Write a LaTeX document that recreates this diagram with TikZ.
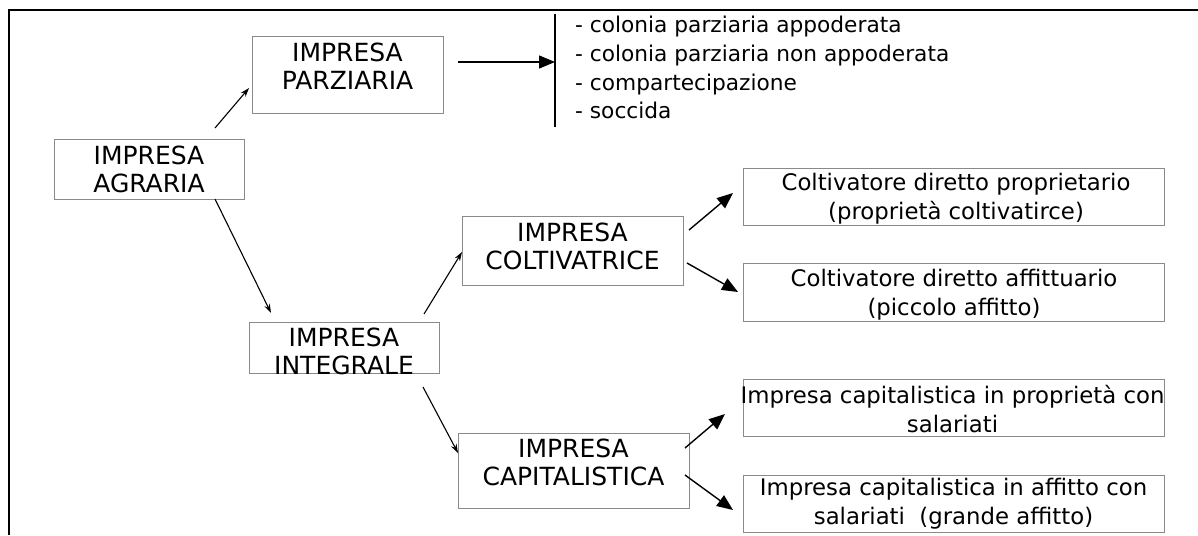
\documentclass[tikz,border=0pt]{standalone}
\usepackage{fontspec}
\setmainfont{DejaVu Sans}
\usetikzlibrary{arrows.meta,calc}
\definecolor{boxgray}{HTML}{8A8A8A}
\begin{document}
\begin{tikzpicture}[x=1pt,y=-1pt,
  box/.style={draw=boxgray, line width=0.9pt, inner sep=0pt, rectangle},
  txt/.style={align=center, font=\fontsize{22.8}{29}\selectfont, inner sep=0pt},
  captxt/.style={align=center, font=\fontsize{25}{28}\selectfont, inner sep=0pt},
  lst/.style={anchor=base west, font=\fontsize{21.7}{28}\selectfont, inner sep=0pt},
  smallarr/.style={line width=1.1pt, -{Stealth[length=9pt,width=6pt]}},
  bigarr/.style={line width=1.4pt, -{Triangle[length=16pt,width=13pt]}},
]
\useasboundingbox (0,0) rectangle (1198,535);
% outer frame
\draw[line width=2pt] (1198,10.5) -- (9,10.5) -- (9,535);

% boxes
\node[box, minimum width=191pt, minimum height=77pt] (parz) at (347.5,74.5) {};
\node[box, minimum width=190pt, minimum height=60pt] (agr) at (149,169) {};
\node[box, minimum width=190pt, minimum height=51pt] (integ) at (344,347.5) {};
\node[box, minimum width=221pt, minimum height=69pt] (colt) at (572.5,250.5) {};
\node[box, minimum width=231pt, minimum height=75pt] (capit) at (573.5,470.5) {};
\node[box, minimum width=421pt, minimum height=57pt] (r1) at (953.5,196.5) {};
\node[box, minimum width=421pt, minimum height=58pt] (r2) at (953.5,292) {};
\node[box, minimum width=421pt, minimum height=57pt] (r3) at (953.5,407.5) {};
\node[box, minimum width=421pt, minimum height=57pt] (r4) at (953.5,503.5) {};

% texts
\node[captxt] (tparz) at (347.5,66) {IMPRESA\\PARZIARIA};
\node[captxt] (tagr) at (149,169) {IMPRESA\\AGRARIA};
\node[captxt] (tinteg) at (344,351) {IMPRESA\\INTEGRALE};
\node[captxt] (tcolt) at (572.5,246) {IMPRESA\\COLTIVATRICE};
\node[captxt] (tcapit) at (573.5,462) {IMPRESA\\CAPITALISTICA};
\node[txt] (tr1) at (956,198.5) {Coltivatore diretto proprietario\\(proprietà coltivatirce)};
\node[txt] (tr2) at (954,294.5) {Coltivatore diretto affittuario\\(piccolo affitto)};
\node[txt] (tr3) at (952.5,409) {Impresa capitalistica in proprietà con\\salariati};
\node[txt] (tr4) at (953.5,504) {Impresa capitalistica in affitto con\\salariati\ \ (grande affitto)};

% list
\draw[line width=2pt] (555,14) -- (555,127);
\node[lst] (l1) at (575,33) {- colonia parziaria appoderata};
\node[lst] (l2) at (575,61.5) {- colonia parziaria non appoderata};
\node[lst] (l3) at (575,90) {- compartecipazione};
\node[lst] (l4) at (575,118.5) {- soccida};

% connector end points
\coordinate (agrA) at (215,128);
\coordinate (parzA) at (249,88);
\coordinate (agrB) at (215,199);
\coordinate (integA) at (271,313);
\coordinate (parzB) at (458,62);
\coordinate (bar) at (555,62);
\coordinate (integB) at (424,314);
\coordinate (coltA) at (462,252);
\coordinate (integC) at (423,387);
\coordinate (capitA) at (458,453);
\coordinate (coltB) at (689,230);
\coordinate (r1A) at (733,193);
\coordinate (coltC) at (687,263);
\coordinate (r2A) at (738,292);
\coordinate (capitB) at (685,448);
\coordinate (r3A) at (725,414);
\coordinate (capitC) at (685,475);
\coordinate (r4A) at (733,510);

\draw[smallarr] (agrA) -- (parzA);
\draw[smallarr] (agrB) -- (integA);
\draw[smallarr] (integB) -- (coltA);
\draw[smallarr] (integC) -- (capitA);
\draw[bigarr] (parzB) -- (bar);
\draw[bigarr] (coltB) -- (r1A);
\draw[bigarr] (coltC) -- (r2A);
\draw[bigarr] (capitB) -- (r3A);
\draw[bigarr] (capitC) -- (r4A);
\end{tikzpicture}
\end{document}
